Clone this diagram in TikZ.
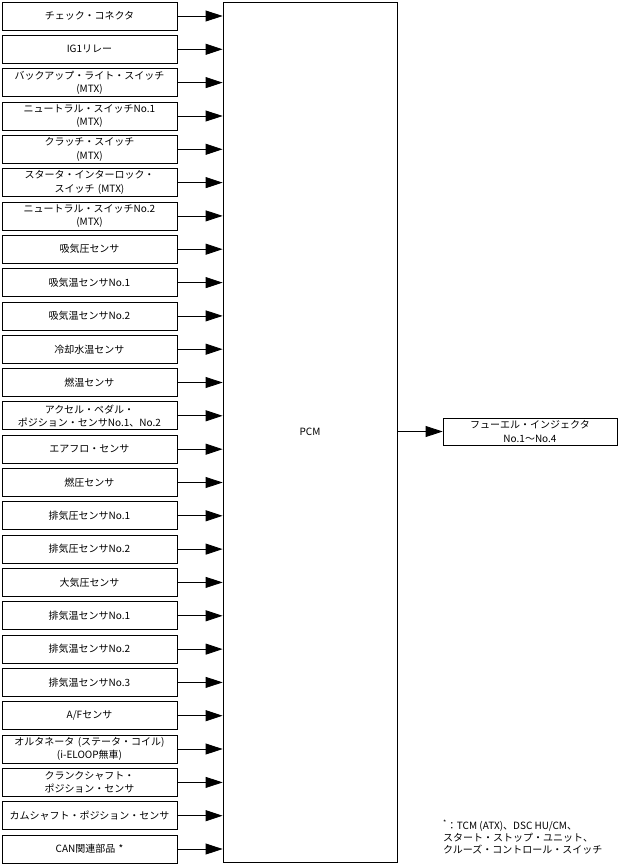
\documentclass[tikz,border=0pt]{standalone}
\usepackage{fontspec}
\setmainfont{Noto Sans CJK JP}
\usetikzlibrary{positioning, arrows.meta}

\begin{document}
\begin{tikzpicture}[
  x=1pt, y=-1pt,
  font=\fontsize{10}{13.5}\selectfont,
  inbox/.style={draw=black, line width=0.8pt, align=center, text width=172pt,
    minimum width=175pt, minimum height=28pt, inner sep=0pt},
  pcmbox/.style={draw=black, line width=0.8pt, minimum width=174pt,
    minimum height=860pt, inner sep=0pt},
  outbox/.style={draw=black, line width=0.8pt, align=center, text width=172pt,
    minimum width=174pt, minimum height=27pt, inner sep=0pt},
  sig/.style={-{Triangle[length=17pt, width=11pt]}, line width=0.8pt, draw=black}
]
\useasboundingbox (0,0) rectangle (618,865);

% control unit
\node[pcmbox] (pcm) at (310,432) {PCM};

% input side
\node[inbox] (chkconn) at (89.5,16) {チェック・コネクタ};
\node[inbox] (igrelay) at (89.5,49.3) {IG1リレー};
\node[inbox] (bulsw) at (89.5,82.6) {バックアップ・ライト・スイッチ\\(MTX)};
\node[inbox] (ntsw1) at (89.5,116) {ニュートラル・スイッチNo.1\\(MTX)};
\node[inbox] (clsw) at (89.5,149.3) {クラッチ・スイッチ\\(MTX)};
\node[inbox] (stsw) at (89.5,182.6) {スタータ・インターロック・\\スイッチ (MTX)};
\node[inbox] (ntsw2) at (89.5,215.9) {ニュートラル・スイッチNo.2\\(MTX)};
\node[inbox] (mapsens) at (89.5,249.2) {吸気圧センサ};
\node[inbox] (iat1) at (89.5,282.6) {吸気温センサNo.1};
\node[inbox] (iat2) at (89.5,315.9) {吸気温センサNo.2};
\node[inbox] (ect) at (89.5,349.2) {冷却水温センサ};
\node[inbox] (fts) at (89.5,382.5) {燃温センサ};
\node[inbox] (apps) at (89.5,415.8) {アクセル・ペダル・\\ポジション・センサNo.1、No.2};
\node[inbox] (maf) at (89.5,449.2) {エアフロ・センサ};
\node[inbox] (fps) at (89.5,482.5) {燃圧センサ};
\node[inbox] (exp1) at (89.5,515.8) {排気圧センサNo.1};
\node[inbox] (exp2) at (89.5,549.1) {排気圧センサNo.2};
\node[inbox] (baro) at (89.5,582.4) {大気圧センサ};
\node[inbox] (egt1) at (89.5,615.8) {排気温センサNo.1};
\node[inbox] (egt2) at (89.5,649.1) {排気温センサNo.2};
\node[inbox] (egt3) at (89.5,682.4) {排気温センサNo.3};
\node[inbox] (afs) at (89.5,715.7) {A/Fセンサ};
\node[inbox] (gen) at (89.5,749) {オルタネータ (ステータ・コイル)\\(i-ELOOP無車)};
\node[inbox] (ckp) at (89.5,782.4) {クランクシャフト・\\ポジション・センサ};
\node[inbox] (cmp) at (89.5,815.7) {カムシャフト・ポジション・センサ};
\node[inbox] (can) at (89.5,849) {CAN関連部品 *};

% signals into the PCM
\draw[sig] (chkconn) -- (chkconn -| pcm.west);
\draw[sig] (igrelay) -- (igrelay -| pcm.west);
\draw[sig] (bulsw) -- (bulsw -| pcm.west);
\draw[sig] (ntsw1) -- (ntsw1 -| pcm.west);
\draw[sig] (clsw) -- (clsw -| pcm.west);
\draw[sig] (stsw) -- (stsw -| pcm.west);
\draw[sig] (ntsw2) -- (ntsw2 -| pcm.west);
\draw[sig] (mapsens) -- (mapsens -| pcm.west);
\draw[sig] (iat1) -- (iat1 -| pcm.west);
\draw[sig] (iat2) -- (iat2 -| pcm.west);
\draw[sig] (ect) -- (ect -| pcm.west);
\draw[sig] (fts) -- (fts -| pcm.west);
\draw[sig] (apps) -- (apps -| pcm.west);
\draw[sig] (maf) -- (maf -| pcm.west);
\draw[sig] (fps) -- (fps -| pcm.west);
\draw[sig] (exp1) -- (exp1 -| pcm.west);
\draw[sig] (exp2) -- (exp2 -| pcm.west);
\draw[sig] (baro) -- (baro -| pcm.west);
\draw[sig] (egt1) -- (egt1 -| pcm.west);
\draw[sig] (egt2) -- (egt2 -| pcm.west);
\draw[sig] (egt3) -- (egt3 -| pcm.west);
\draw[sig] (afs) -- (afs -| pcm.west);
\draw[sig] (gen) -- (gen -| pcm.west);
\draw[sig] (ckp) -- (ckp -| pcm.west);
\draw[sig] (cmp) -- (cmp -| pcm.west);
\draw[sig] (can) -- (can -| pcm.west);

% output side
\node[outbox] (inj) at (530,431.5) {フューエル・インジェクタ\\No.1～No.4};
\draw[sig] (pcm.east |- inj) -- (inj);

% footnote
\node[anchor=north west, align=left, inner sep=0pt,
  font=\fontsize{10}{12}\selectfont] (fnote) at (443,820)
  {\textsuperscript{*}：TCM (ATX)、DSC HU/CM、\\スタート・ストップ・ユニット、\\クルーズ・コントロール・スイッチ};

\end{tikzpicture}
\end{document}
